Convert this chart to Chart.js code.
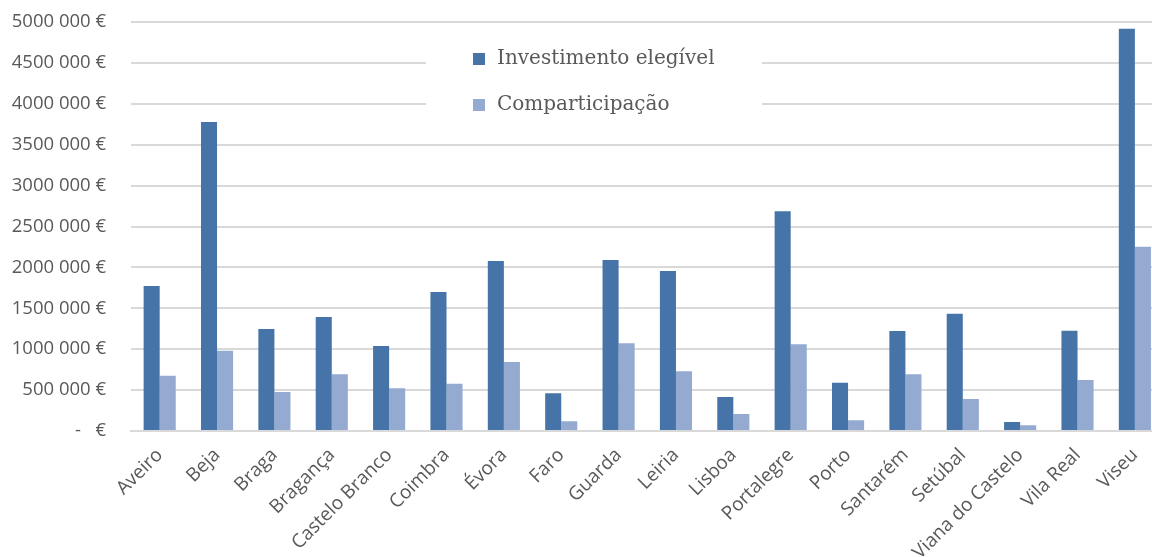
<!DOCTYPE html>
<html>
<head>
<meta charset="utf-8">
<script src="https://cdn.jsdelivr.net/npm/chart.js@4/dist/chart.umd.min.js"></script>
<style>
  html, body { margin: 0; padding: 0; background: #fff; overflow: hidden; }
  #wrap { width: 1152px; height: 557px; overflow: hidden; }
</style>
</head>
<body>
<div id="wrap"><canvas id="chart" width="1164" height="557"></canvas></div>
<script>
var regioes = ["Aveiro", "Beja", "Braga", "Bragança", "Castelo Branco", "Coimbra", "Évora", "Faro", "Guarda",
    "Leiria", "Lisboa", "Portalegre", "Porto", "Santarém", "Setúbal", "Viana do Castelo", "Vila Real", "Viseu"];
var investimento = [1772000, 3778000, 1247000, 1394000, 1039000, 1699000, 2078000, 461000, 2090000,
    1956000, 416000, 2686000, 590000, 1222000, 1434000, 110000, 1226000, 4918000];
var comparticipacao = [676000, 982000, 477000, 693000, 522000, 578000, 843000, 118000, 1072000,
    730000, 208000, 1060000, 131000, 693000, 391000, 70000, 623000, 2253000];
var serieNomes = ["Investimento elegível", "Comparticipação"];
var cores = ["#4673a8", "#95aad0"];

function euro(v) {
    if (v === 0) return "-   €";
    var s = String(v);
    return s.slice(0, -3) + " " + s.slice(-3) + " €";
}

// legenda desenhada dentro da área do gráfico, com fundo branco
var legendaPlugin = {
    id: 'legendaInterna',
    afterDraw: function (c) {
        var ctx = c.ctx;
        ctx.save();
        ctx.fillStyle = "#fff";
        ctx.fillRect(426, 32, 336, 98);
        ctx.font = "20px 'DejaVu Serif'";
        ctx.textBaseline = "middle";
        c.data.datasets.forEach(function (ds, i) {
            var y = 59 + i * 46;
            ctx.fillStyle = ds.backgroundColor;
            ctx.fillRect(473, y - 6, 12, 12);
            ctx.fillStyle = "#595959";
            ctx.fillText(ds.label, 497, y);
        });
        ctx.restore();
    }
};

var chart = new Chart(document.getElementById('chart'), {
    type: 'bar',
    data: {
        labels: regioes,
        datasets: [
            { label: serieNomes[0], data: investimento, backgroundColor: cores[0] },
            { label: serieNomes[1], data: comparticipacao, backgroundColor: cores[1] }
        ]
    },
    options: {
        responsive: false,
        animation: false,
        layout: { padding: { top: 22, right: 0, left: 0, bottom: 0 } },
        datasets: { bar: { categoryPercentage: 0.56, barPercentage: 1.0 } },
        plugins: { legend: { display: false }, tooltip: { enabled: false } },
        scales: {
            x: {
                grid: { display: false, drawTicks: false },
                border: { display: true, color: "#d9d9d9", width: 2 },
                ticks: {
                    color: "#595959",
                    font: { family: "'Open Sans'", size: 19 },
                    minRotation: 45, maxRotation: 45,
                    padding: 13,
                    autoSkip: false
                },
                afterFit: function (s) { s.height = 126; }
            },
            y: {
                min: 0, max: 5000000,
                grid: { color: "#d9d9d9", lineWidth: 2, drawTicks: false },
                border: { display: false },
                ticks: {
                    stepSize: 500000,
                    color: "#595959",
                    font: { family: "'Open Sans'", size: 18.5 },
                    padding: 25,
                    callback: function (v) { return euro(v); }
                },
                afterFit: function (s) {
                    s.width = 131;
                    s.paddingTop = 0;
                    s.paddingBottom = 0;
                }
            }
        }
    },
    plugins: [legendaPlugin]
});
</script>
</body>
</html>
